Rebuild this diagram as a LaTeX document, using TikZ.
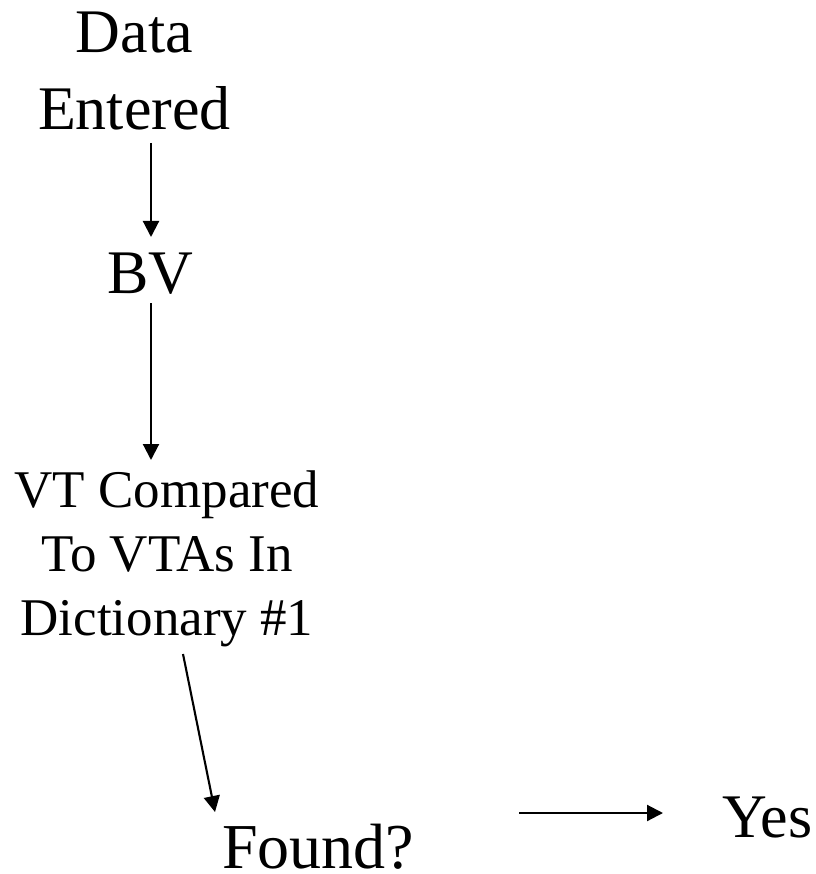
\documentclass[tikz,border=0pt]{standalone}
\usepackage{fontspec}
\setmainfont{Liberation Serif}
\usetikzlibrary{arrows.meta,calc}
\begin{document}
\begin{tikzpicture}[x=1pt,y=-1pt,
  lbl/.style={inner sep=0pt,outer sep=0pt,align=center,anchor=base},
  big/.style={font=\fontsize{62}{77}\selectfont},
  mid/.style={font=\fontsize{53}{64}\selectfont},
  arr/.style={line width=2.1pt,-{Triangle[length=16pt,width=16pt]}}]
\useasboundingbox (0,0) rectangle (815,874);
\node[lbl,big] (de) at (134.5,130) {Data\\Entered};
\node[lbl,big] (bv) at (150.5,293) {BV};
\node[lbl,mid] (vt) at (167,635) {VT Compared\\To VTAs In\\Dictionary \#1};
\node[lbl,font=\fontsize{64}{77}\selectfont] (fo) at (318,868.5) {Found?};
\node[lbl,big] (ye) at (767.5,837) {Yes};
\draw[arr] ($(de.base)+(16.5,13)$) -- ($(bv.base)+(0.5,-56)$);
\draw[arr] ($(bv.base)+(0.5,10)$) -- ($(vt.base)+(-16,-175)$);
\draw[arr] ($(vt.base)+(16,19)$) -- ($(fo.base)+(-103,-56.5)$);
\draw[arr] ($(fo.base)+(201,-55.5)$) -- ($(ye.base)+(-104.5,-24)$);
\end{tikzpicture}
\end{document}
